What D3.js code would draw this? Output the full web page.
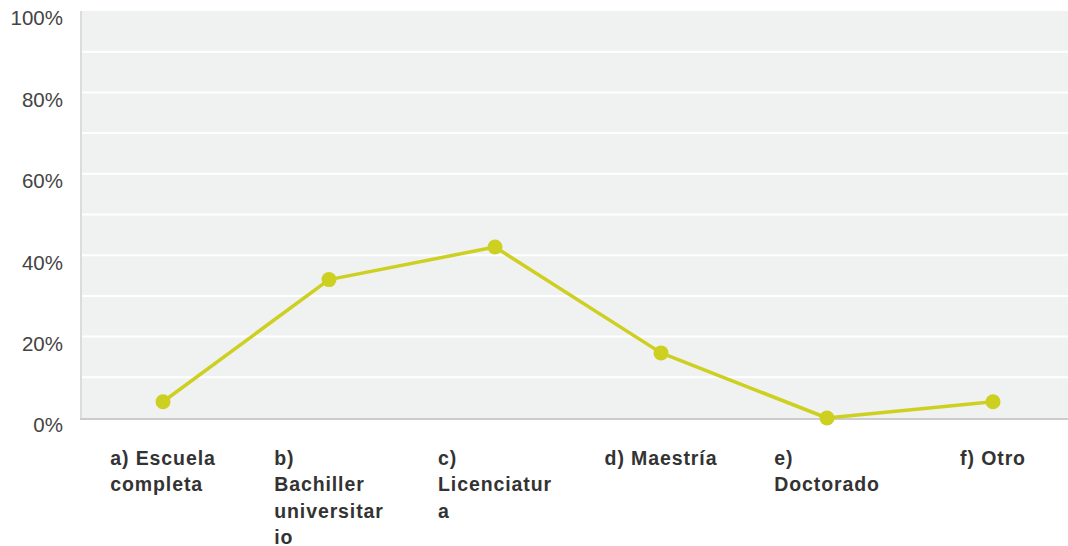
<!DOCTYPE html>
<html>
<head>
<meta charset="utf-8">
<script src="https://cdn.jsdelivr.net/npm/d3@7"></script>
<style>
  body { margin: 0; background: #fff; }
  text { font-family: "Liberation Sans", Arial, sans-serif; }
</style>
</head>
<body>
<svg id="chart" width="1068" height="546"></svg>
<script>
// categories, each split in the lines it is drawn on
const categories = ["a", "b", "c", "d", "e", "f"];
const catLines = [
  ["a) Escuela", "completa"],
  ["b)", "Bachiller", "universitar", "io"],
  ["c)", "Licenciatur", "a"],
  ["d) Maestría"],
  ["e)", "Doctorado"],
  ["f) Otro"]
];
const values = [4, 34, 42, 16, 0, 4];
const yTicks = [0, 20, 40, 60, 80, 100];
const yGrid = [0, 10, 20, 30, 40, 50, 60, 70, 80, 90, 100];

const layout = {width: 1068, height: 546, left: 82, right: 1068, top: 11, bottom: 418};
const lineColor = "#cdd020";

const svg = d3.select("#chart");

const xScale = d3.scaleBand()
  .domain(categories)
  .range([80, 1076]);

const yScale = d3.scaleLinear()
  .domain([0, 100])
  .range([layout.bottom, layout.top]);

// plot background
svg.append("rect")
  .attr("x", layout.left)
  .attr("y", layout.top)
  .attr("width", layout.right - layout.left)
  .attr("height", layout.bottom - layout.top)
  .attr("fill", "#f0f1f1");

// left border
svg.append("rect")
  .attr("x", layout.left - 2)
  .attr("y", layout.top)
  .attr("width", 2)
  .attr("height", layout.bottom - layout.top + 2)
  .attr("fill", "#dcdcdc");

// gridlines
svg.append("g")
  .selectAll("line")
  .data(yGrid.filter(d => d > 0 && d < 100))
  .join("line")
  .attr("x1", layout.left)
  .attr("x2", layout.right)
  .attr("y1", d => yScale(d))
  .attr("y2", d => yScale(d))
  .attr("stroke", "#ffffff")
  .attr("stroke-width", 2);

// bottom axis line
svg.append("line")
  .attr("x1", layout.left - 2)
  .attr("x2", layout.right)
  .attr("y1", layout.bottom + 1)
  .attr("y2", layout.bottom + 1)
  .attr("stroke", "#cccccc")
  .attr("stroke-width", 2);

// y labels
svg.append("g")
  .selectAll("text")
  .data(yTicks)
  .join("text")
  .attr("x", 63)
  .attr("y", d => yScale(d) + 9)
  .attr("text-anchor", "end")
  .attr("dominant-baseline", "middle")
  .attr("font-size", 20.5)
  .attr("fill", "#444")
  .text(d => d + "%");

// line and points
const cx = d => xScale(d) + xScale.bandwidth() / 2;

svg.append("path")
  .datum(values)
  .attr("fill", "none")
  .attr("stroke", lineColor)
  .attr("stroke-width", 3.5)
  .attr("stroke-linejoin", "round")
  .attr("d", d3.line()
    .x((d, i) => cx(categories[i]))
    .y(d => yScale(d)));

svg.append("g")
  .selectAll("circle")
  .data(values)
  .join("circle")
  .attr("cx", (d, i) => cx(categories[i]))
  .attr("cy", d => yScale(d))
  .attr("r", 7.5)
  .attr("fill", lineColor);

// x labels: block centred under point, lines left aligned
const labels = svg.append("g")
  .selectAll("g")
  .data(categories)
  .join("g");

labels.each(function(c, i) {
  const g = d3.select(this);
  const t = g.append("text")
    .attr("font-size", 19.5)
    .attr("font-weight", "bold")
    .attr("letter-spacing", "0.9px")
    .attr("fill", "#333");
  t.selectAll("tspan")
    .data(catLines[i])
    .join("tspan")
    .attr("x", 0)
    .attr("y", (d, j) => 465 + j * 26.3)
    .text(d => d);
  const w = t.node().getBBox().width;
  g.attr("transform", `translate(${cx(c) - w / 2}, 0)`);
});
</script>
</body>
</html>
